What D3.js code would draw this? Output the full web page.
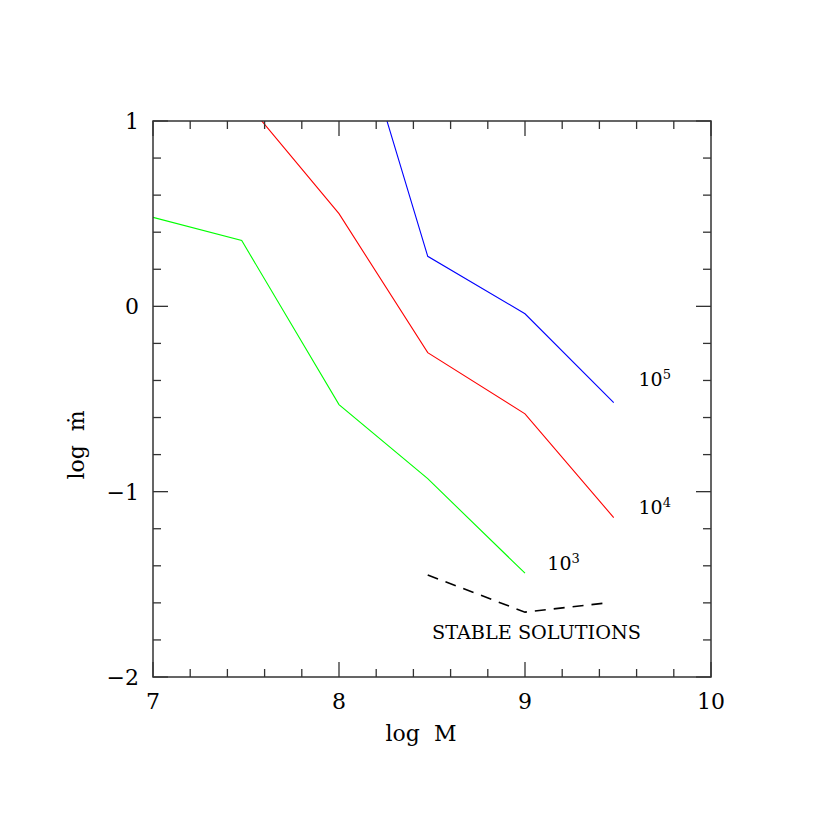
<!DOCTYPE html>
<html><head><meta charset="utf-8">
<script src="https://cdn.jsdelivr.net/npm/d3@7"></script>
<style>body{margin:0;background:#fff}</style>
</head><body><svg id="c" width="830" height="830"></svg>
<script>
const logM = [7, 7.477, 8, 8.477, 9, 9.477];
const series5 = [null, null, 1.86, 0.27, -0.04, -0.52];
const series4 = [null, 1.13, 0.50, -0.25, -0.58, -1.14];
const series3 = [0.48, 0.355, -0.53, -0.93, -1.44, null];
const stableX = [8.477, 9.0, 9.44];
const stableY = [-1.45, -1.65, -1.60];
const xTicks = [7, 8, 9, 10];
const yTicks = [-2, -1, 0, 1];
const labels = [
  {text: "10", sup: "5", x: 9.61, y: -0.43},
  {text: "10", sup: "4", x: 9.61, y: -1.12},
  {text: "10", sup: "3", x: 9.12, y: -1.42}
];

const svg = d3.select("#c");
const x = d3.scaleLinear().domain([7, 10]).range([153, 711]);
const y = d3.scaleLinear().domain([-2, 1]).range([677, 121]);
const font = "'DejaVu Serif', 'Liberation Serif', serif";

svg.append("clipPath").attr("id", "clip").append("rect")
  .attr("x", 153).attr("y", 121).attr("width", 558).attr("height", 556);

const line = d3.line().defined(d => d[1] !== null).x(d => x(d[0])).y(d => y(d[1]));
const g = svg.append("g").attr("clip-path", "url(#clip)");
[[series5, "#0000ff"], [series4, "#ff0000"], [series3, "#00ff00"]].forEach(([s, c]) => {
  g.append("path").datum(logM.map((m, i) => [m, s[i]]))
    .attr("d", line).attr("fill", "none").attr("stroke", c).attr("stroke-width", 1.1);
});
g.append("path").datum(stableX.map((m, i) => [m, stableY[i]]))
  .attr("d", line).attr("fill", "none").attr("stroke", "#000").attr("stroke-width", 1.6)
  .attr("stroke-dasharray", "11,8");

// frame
const axColor = "#333";
svg.append("rect").attr("x", 153).attr("y", 121).attr("width", 558).attr("height", 556)
  .attr("fill", "none").attr("stroke", axColor).attr("stroke-width", 1.5);

const minorX = d3.range(7, 10.001, 0.2).map(v => +v.toFixed(2));
const minorY = d3.range(-2, 1.001, 0.2).map(v => +v.toFixed(2));
const isMajor = v => Math.abs(v - Math.round(v)) < 1e-6;
const tk = svg.append("g").attr("stroke", axColor).attr("stroke-width", 1.3);
minorX.forEach(v => {
  const L = isMajor(v) ? 15 : 8;
  tk.append("line").attr("x1", x(v)).attr("x2", x(v)).attr("y1", 677).attr("y2", 677 - L);
  tk.append("line").attr("x1", x(v)).attr("x2", x(v)).attr("y1", 121).attr("y2", 121 + L);
});
minorY.forEach(v => {
  const L = isMajor(v) ? 15 : 8;
  tk.append("line").attr("y1", y(v)).attr("y2", y(v)).attr("x1", 153).attr("x2", 153 + L);
  tk.append("line").attr("y1", y(v)).attr("y2", y(v)).attr("x1", 711).attr("x2", 711 - L);
});

// tick labels
svg.append("g").selectAll("text").data(xTicks).join("text")
  .attr("x", d => x(d)).attr("y", 709).attr("text-anchor", "middle")
  .attr("font-family", font).attr("font-size", 22).text(d => d);
svg.append("g").selectAll("text").data(yTicks).join("text")
  .attr("x", 139).attr("y", d => y(d) + 8).attr("text-anchor", "end")
  .attr("font-family", font).attr("font-size", 22).text(d => d < 0 ? "\u2212" + Math.abs(d) : d);

// axis titles
svg.append("text").attr("x", 421).attr("y", 741).attr("text-anchor", "middle")
  .attr("font-family", font).attr("font-size", 22).attr("xml:space", "preserve").text("log  M");
svg.append("text").attr("transform", "translate(84,445) rotate(-90)").attr("text-anchor", "middle")
  .attr("font-family", font).attr("font-size", 22).attr("xml:space", "preserve").text("log  \u1E41");

// curve labels
labels.forEach(l => {
  const t = svg.append("text").attr("x", x(l.x)).attr("y", y(l.y))
    .attr("font-family", font).attr("font-size", 19);
  t.append("tspan").text(l.text);
  t.append("tspan").attr("dy", -7).attr("font-size", 13).text(l.sup);
});
svg.append("text").attr("x", 432).attr("y", 639).attr("font-family", font).attr("font-size", 19)
  .attr("textLength", 209).attr("lengthAdjust", "spacingAndGlyphs").text("STABLE SOLUTIONS");
</script></body></html>
